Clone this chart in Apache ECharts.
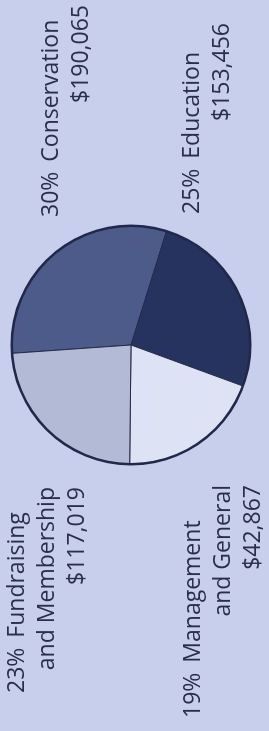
<!DOCTYPE html>
<html>
<head>
<meta charset="utf-8">
<script src="https://cdn.jsdelivr.net/npm/echarts@6/dist/echarts.min.js"></script>
<style>
  html, body { margin: 0; padding: 0; width: 269px; height: 731px; overflow: hidden; background: #c8cfed; }
  /* chart is laid out landscape and turned to read bottom-to-top */
  #chart { position: absolute; left: 0; top: 0; width: 731px; height: 269px;
           transform-origin: 0 0; transform: translateY(731px) rotate(-90deg); }
</style>
</head>
<body>
<div id="chart"></div>
<script>
const categories = ["Conservation", "Education", "Management\nand General", "Fundraising\nand Membership"];
const percents = [30, 25, 19, 23];
const amounts = [190065, 153456, 42867, 117019];

const sliceColors = ["#4d5b8a", "#27335f", "#dde2f4", "#b3bad6"];
// label boxes in the landscape frame: left, top, width
const labelBoxes = [
  { x: 514, y: 36, w: 212 },
  { x: 517, y: 177, w: 191 },
  { x: 13, y: 178, w: 233 },
  { x: 38, y: 2, w: 206 }
];

const chart = echarts.init(document.getElementById("chart"));

const font = { fontFamily: "Open Sans", fontSize: 23, lineHeight: 30, color: "#2b2e48" };

const options = {
  backgroundColor: "#c8cfed",
  animation: false,
  series: [
    {
      type: "pie",
      center: [386, 131],
      radius: 119,
      startAngle: 94,
      clockwise: true,
      avoidLabelOverlap: false,
      emphasis: { disabled: true },
      data: categories.map((name, i) => ({
        name: name,
        value: percents[i],
        itemStyle: { color: sliceColors[i] },
        label: { width: labelBoxes[i].w }
      })),
      itemStyle: { borderColor: "#262b48", borderWidth: 1 },
      labelLine: { show: false },
      label: Object.assign({
        show: true,
        position: "outside",
        overflow: "none",
        formatter: function (p) {
          const i = p.dataIndex;
          const lines = categories[i].split("\n");
          let s = "{p|" + percents[i] + "%}{n|" + lines[0] + "}";
          for (let k = 1; k < lines.length; k++) s += "\n{r|" + lines[k] + "}";
          s += "\n{r|$" + amounts[i].toLocaleString("en-US") + "}";
          return s;
        },
        rich: {
          p: Object.assign({ padding: [0, 10, 0, 0] }, font),
          n: Object.assign({}, font),
          r: Object.assign({ align: "right" }, font)
        }
      }, font),
      labelLayout: function (params) {
        const b = labelBoxes[params.dataIndex];
        return { x: b.x, y: b.y, align: "left", verticalAlign: "top" };
      }
    },
    {
      // dark outline round the pie
      type: "pie",
      center: [386, 131],
      radius: [118, 120.5],
      silent: true,
      z: 3,
      label: { show: false },
      labelLine: { show: false },
      itemStyle: { color: "#22284a" },
      data: [{ value: 1, name: "outline" }]
    }
  ]
};

chart.setOption(options);
</script>
</body>
</html>
